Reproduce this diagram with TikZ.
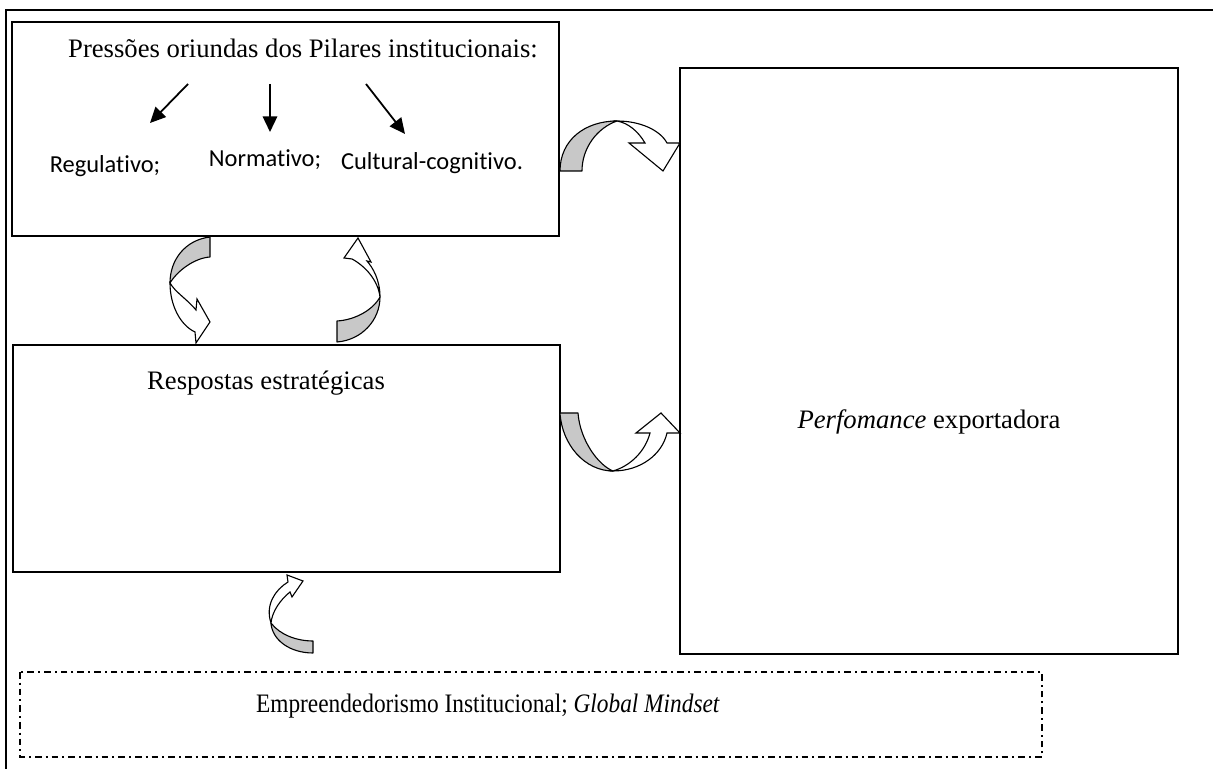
\documentclass[tikz,border=0pt]{standalone}
\usepackage{fontspec}
\setmainfont{Liberation Serif}
\newfontfamily\calibri[Ligatures=NoCommon]{Carlito}
\usetikzlibrary{arrows.meta}
\definecolor{fitacinza}{RGB}{200,200,200}
\tikzset{
  moldura/.style={line width=1pt},
  caixa/.style={draw, line width=0.8pt},
  tracejada/.style={draw, line width=0.8pt, dash pattern=on 3pt off 1.8pt on 0.9pt off 1.8pt},
  seta/.style={line width=0.8pt, -{Triangle[length=7pt,width=6.5pt]}},
  fitatras/.style={draw, fill=fitacinza, line width=0.5pt, line join=round},
  fitafrente/.style={draw, fill=white, line width=0.5pt},
  rotulo/.style={font=\calibri\fontsize{11}{13}\selectfont, inner sep=0pt},
  texto/.style={font=\fontsize{12}{14}\selectfont, inner sep=0pt}
}

\begin{document}
\begin{tikzpicture}[x=0.45pt,y=-0.45pt]
	\useasboundingbox (0,0) rectangle (1213,769);
	\draw[moldura] (6,769) -- (6,10) -- (1213,10);
	\draw[caixa] (12,22) rectangle (559,236);%pilares
	\draw[caixa] (13,345) rectangle (560,572);%respostas
	\draw[caixa] (680,68) rectangle (1178,654);%performance
	\draw[tracejada] (20,672) rectangle (1042,757);%empreendedorismo
	\node[texto] (titulo) at (303,48){Pressões oriundas dos Pilares institucionais:};
	\node[rotulo] (reg) at (105,166){Regulativo;};
	\node[rotulo] (norm) at (265,160){Normativo;};
	\node[rotulo] (cult) at (432,163){Cultural-cognitivo.};
	\node[texto] (resp) at (266,383){Respostas estratégicas};
	\node[texto] (perf) at (929,422){\textit{Perfomance} exportadora};
	\node[texto] (empr) at (488,706){\scalebox{0.875}[1]{Empreendedorismo Institucional; \textit{Global Mindset}}};
	\coordinate (r0) at (188,84);
	\coordinate (r1) at (150,123);
	\coordinate (n0) at (270,84);
	\coordinate (n1) at (270,132);
	\coordinate (c0) at (366,84);
	\coordinate (c1) at (405,134);
	\draw[seta] (r0) -- (r1);
	\draw[seta] (n0) -- (n1);
	\draw[seta] (c0) -- (c1);
	% pilares -> performance
	\draw[fitatras] (560,171) .. controls (560,140) and (585,121) .. (617,121)
		.. controls (597,128) and (582,148) .. (582,171) -- cycle;
	\draw[fitafrente] (617,121) .. controls (640,121) and (660,130) .. (667,143)
		-- (680,143) -- (663,171) -- (629,143) -- (645,143)
		.. controls (638,131) and (628,123) .. (617,121) -- cycle;
	% respostas -> performance
	\draw[fitatras] (560,413) .. controls (562,445) and (585,471) .. (613,471)
		.. controls (598,465) and (580,440) .. (578,413) -- cycle;
	\draw[fitafrente] (613,471) .. controls (640,471) and (662,455) .. (667,433)
		-- (680,433) -- (661,413) -- (636,433) -- (650,433)
		.. controls (645,452) and (630,466) .. (613,471) -- cycle;
	% pilares -> respostas
	\draw[fitatras] (210,237) .. controls (185,240) and (170,260) .. (170,283)
		.. controls (178,270) and (195,258) .. (210,257) -- cycle;
	\draw[fitafrente] (170,283) .. controls (170,305) and (180,325) .. (195,332)
		-- (196,343) -- (210,322) -- (197,299) -- (196,310)
		.. controls (188,300) and (175,292) .. (170,283) -- cycle;
	% respostas -> pilares
	\draw[fitatras] (337,342) .. controls (362,340) and (380,320) .. (380,297)
		.. controls (373,310) and (355,320) .. (337,321) -- cycle;
	\draw[fitafrente] (380,297) .. controls (380,280) and (373,268) .. (367,261)
		-- (371,262) -- (358,238) -- (344,258) -- (352,259)
		.. controls (365,266) and (378,280) .. (380,297) -- cycle;
	% empreendedorismo -> respostas
	\draw[fitatras] (313,653) .. controls (290,653) and (272,640) .. (271,623)
		.. controls (280,635) and (297,641) .. (313,641) -- cycle;
	\draw[fitafrente] (271,623) .. controls (265,605) and (275,590) .. (288,582)
		-- (287,575) -- (303,581) -- (292,597) -- (290,592)
		.. controls (280,600) and (272,612) .. (271,623) -- cycle;
\end{tikzpicture}
\end{document}
